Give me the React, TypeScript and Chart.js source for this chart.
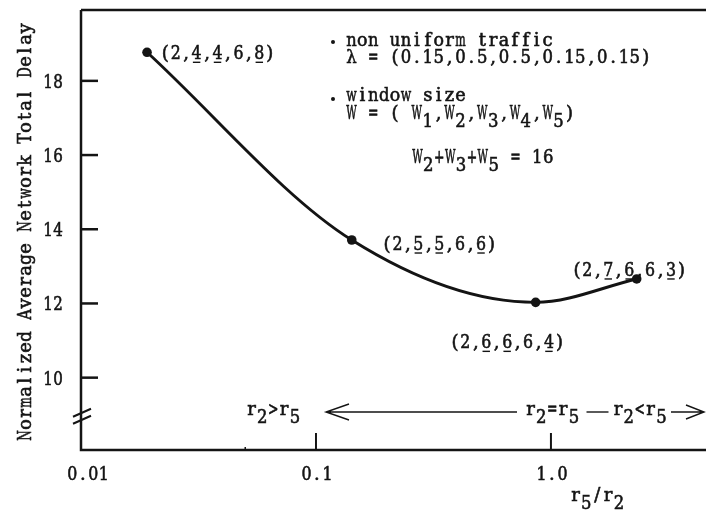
import React, { useEffect, useRef } from "react";
import { Chart, registerables } from "chart.js";

Chart.register(...registerables);

// ---- data ----
const ratioValues = [0.0191, 0.142, 0.861, 2.317];
const delayValues = [18.77, 13.71, 12.03, 12.66];
const windowLabels = ["(2,4,4,6,8)", "(2,5,5,6,6)", "(2,6,6,6,4)", "(2,7,6,6,3)"];
const underlinedChars = [3, 5, 9];
const yTickValues = [10, 12, 14, 16, 18];
const yTickLabels = ["10", "12", "14", "16", "18"];
const xTickValues = [0.01, 0.1, 1];
const xTickLabels = ["0.01", "0.1", "1.0"];
const xMinorTicks = [0.05];
const yBreakValue = 9;
const yAxisTitle = "Normalized Average Network Total Delay";
const xAxisTitle = "r_5/r_2";
const noteLines = [
  "non uniform traffic",
  "λ = (0.15,0.5,0.5,0.15,0.15)",
  "window size",
  "W = ( W_1,W_2,W_3,W_4,W_5)",
  "W_2+W_3+W_5 = 16",
];
const regionLabels = ["r_2>r_5", "r_2=r_5", "r_2<r_5"];

// ---- layout / style ----
const W = 706;
const H = 514;
const FONT = "18px 'DejaVu Serif', 'Liberation Serif', serif";
const INK = "#141414";
const CELL = 10.9;
const LABEL_CELL = 10.45;
const labelOffsets = [
  [13, 7],
  [30, 10],
  [-86, 46],
  [-65, -3],
];
const noteX = [346, 346, 346, 346, 412];
const noteBase = [46, 63, 101, 119, 163];
const bullets = [
  [333, 42],
  [333, 99],
];
const SUB = 8;

// typewriter-style text: each glyph set in a fixed-width cell
function txt(
  ctx: CanvasRenderingContext2D,
  s: string,
  x: number,
  y: number,
  align: "left" | "center" | "right" = "left",
  cell = CELL
) {
  const total = s.length * cell;
  let start = x;
  if (align === "center") start = x - total / 2;
  if (align === "right") start = x - total;
  ctx.save();
  ctx.textAlign = "center";
  ctx.lineWidth = 0.6;
  for (let i = 0; i < s.length; i++) {
    const ch = s[i];
    if (ch === " ") continue;
    const w = ctx.measureText(ch).width;
    const sx = w > cell * 0.96 ? (cell * 0.96) / w : 1;
    ctx.save();
    ctx.translate(start + i * cell + cell / 2, y);
    ctx.scale(sx, 1);
    ctx.fillText(ch, 0, 0);
    ctx.strokeText(ch, 0, 0);
    ctx.restore();
  }
  ctx.restore();
  return start + total;
}

function drawRich(ctx: CanvasRenderingContext2D, s: string, x: number, y: number, cell = CELL) {
  let cx = x;
  for (let i = 0; i < s.length; i++) {
    let ch = s[i];
    let dy = 0;
    if (ch === "_" && i + 1 < s.length) {
      i++;
      ch = s[i];
      dy = SUB;
    }
    cx = txt(ctx, ch, cx, y + dy, "left", cell);
  }
  return cx;
}

const decor = {
  id: "paperDecor",
  beforeDraw(chart: any) {
    const ctx = chart.ctx;
    ctx.save();
    ctx.fillStyle = "#ffffff";
    ctx.fillRect(0, 0, chart.width, chart.height);
    ctx.restore();
  },
  afterDraw(chart: any) {
    const ctx: CanvasRenderingContext2D = chart.ctx;
    const xs = chart.scales.x;
    const ys = chart.scales.y;
    const a = chart.chartArea;
    ctx.save();
    ctx.strokeStyle = INK;
    ctx.fillStyle = INK;
    ctx.lineCap = "butt";
    ctx.font = FONT;
    ctx.textBaseline = "alphabetic";

    // frame: left axis, top border, bottom axis
    ctx.lineWidth = 2.5;
    ctx.beginPath();
    ctx.moveTo(a.left, a.top);
    ctx.lineTo(a.right, a.top);
    ctx.moveTo(a.left, a.top);
    ctx.lineTo(a.left, a.bottom);
    ctx.lineTo(a.right, a.bottom);
    ctx.stroke();

    // y ticks (inward)
    yTickValues.forEach((v, i) => {
      const py = ys.getPixelForValue(v);
      ctx.lineWidth = 2.5;
      ctx.beginPath();
      ctx.moveTo(a.left, py);
      ctx.lineTo(a.left + 17, py);
      ctx.stroke();
      txt(ctx, yTickLabels[i], a.left - 18, py + 7, "right", 10);
    });

    // axis break marks
    const by = ys.getPixelForValue(yBreakValue) + 3;
    ctx.lineWidth = 2;
    ctx.beginPath();
    ctx.moveTo(a.left - 8, by - 1);
    ctx.lineTo(a.left + 10, by - 9);
    ctx.moveTo(a.left - 8, by + 6);
    ctx.lineTo(a.left + 10, by - 2);
    ctx.stroke();

    // x ticks (inward)
    xTickValues.forEach((v, i) => {
      const px = xs.getPixelForValue(v);
      if (i > 0) {
        ctx.lineWidth = 2;
        ctx.beginPath();
        ctx.moveTo(px, a.bottom);
        ctx.lineTo(px, a.bottom - 17);
        ctx.stroke();
      }
      txt(ctx, xTickLabels[i], px + (i === 0 ? 7 : 1), a.bottom + 30, "center", 10.5);
    });
    ctx.lineWidth = 1.5;
    xMinorTicks.forEach((v) => {
      const px = xs.getPixelForValue(v);
      ctx.beginPath();
      ctx.moveTo(px, a.bottom);
      ctx.lineTo(px, a.bottom - 3);
      ctx.stroke();
    });

    // axis titles
    drawRich(ctx, xAxisTitle, 570, 501);
    ctx.save();
    ctx.translate(31, 232);
    ctx.rotate(-Math.PI / 2);
    txt(ctx, yAxisTitle, 0, 0, "center", 11);
    ctx.restore();

    // point labels with underlines
    const meta = chart.getDatasetMeta(0);
    meta.data.forEach((pt: any, i: number) => {
      const lx = pt.x + labelOffsets[i][0];
      const ly = pt.y + labelOffsets[i][1];
      const s = windowLabels[i];
      txt(ctx, s, lx, ly, "left", LABEL_CELL);
      ctx.lineWidth = 1.4;
      underlinedChars.forEach((ci) => {
        const x0 = lx + ci * LABEL_CELL;
        ctx.beginPath();
        ctx.moveTo(x0 + 1.5, ly + 3);
        ctx.lineTo(x0 + LABEL_CELL - 1.5, ly + 3);
        ctx.stroke();
      });
    });

    // notes block
    bullets.forEach(([bx, byy]) => {
      ctx.beginPath();
      ctx.arc(bx, byy, 2, 0, Math.PI * 2);
      ctx.fill();
    });
    noteLines.forEach((s, i) => drawRich(ctx, s, noteX[i], noteBase[i]));

    // region arrows
    const ay = 412;
    const base = 415;
    drawRich(ctx, regionLabels[0], 246, base);
    ctx.lineWidth = 1.4;
    ctx.beginPath();
    ctx.moveTo(326, ay);
    ctx.lineTo(517, ay);
    ctx.moveTo(349, ay - 8);
    ctx.lineTo(326, ay);
    ctx.lineTo(349, ay + 8);
    ctx.stroke();
    const e1 = drawRich(ctx, regionLabels[1], 525, base);
    ctx.lineWidth = 1.4;
    ctx.beginPath();
    ctx.moveTo(e1 + 7, ay);
    ctx.lineTo(e1 + 29, ay);
    ctx.stroke();
    const e2 = drawRich(ctx, regionLabels[2], e1 + 33, base);
    ctx.lineWidth = 1.4;
    ctx.beginPath();
    ctx.moveTo(e2 + 4, ay);
    ctx.lineTo(704, ay);
    ctx.moveTo(686, ay - 7);
    ctx.lineTo(704, ay);
    ctx.lineTo(686, ay + 7);
    ctx.stroke();

    ctx.restore();
  },
};

export default function App() {
  const ref = useRef<HTMLCanvasElement | null>(null);
  useEffect(() => {
    if (!ref.current) return;
    const chart = new Chart(ref.current, {
      type: "line",
      data: {
        datasets: [
          {
            data: ratioValues.map((x, i) => ({ x, y: delayValues[i] })),
            borderColor: INK,
            backgroundColor: INK,
            borderWidth: 2.9,
            pointRadius: 4.8,
            pointBackgroundColor: INK,
            pointBorderWidth: 0,
            cubicInterpolationMode: "monotone",
            fill: false,
          },
        ],
      },
      options: {
        animation: false,
        responsive: false,
        devicePixelRatio: 1,
        layout: { padding: { left: 81, top: 10, right: 0, bottom: 64 }, autoPadding: false },
        plugins: { legend: { display: false }, tooltip: { enabled: false } },
        events: [],
        scales: {
          x: { type: "logarithmic", min: 0.01, max: 4.57, display: false },
          y: { type: "linear", min: 8.05, max: 19.91, display: false },
        },
      },
      plugins: [decor],
    });
    return () => chart.destroy();
  }, []);
  return (
    <div style={{ position: "absolute", left: 0, top: 0, width: W, height: H, background: "#fff" }}>
      <canvas ref={ref} width={W} height={H} style={{ width: W, height: H, display: "block" }} />
    </div>
  );
}
